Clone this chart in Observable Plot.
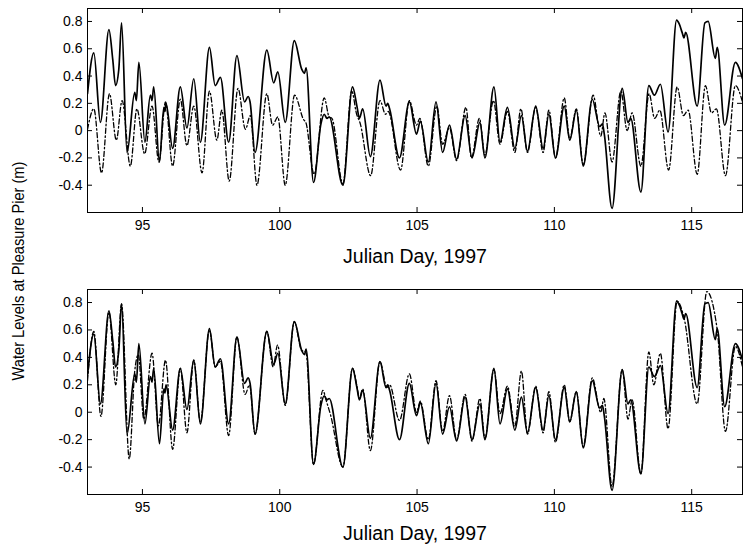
<!DOCTYPE html>
<html>
<head>
<meta charset="utf-8">
<script src="https://cdn.jsdelivr.net/npm/d3@7"></script>
<script src="https://cdn.jsdelivr.net/npm/@observablehq/plot@0.6"></script>
<style>
  html, body { margin: 0; padding: 0; background: #fff; }
  #wrap { position: relative; width: 743px; height: 544px; overflow: hidden; font-family: "Liberation Sans", Arial, sans-serif; }
  #wrap > div.panel { position: absolute; left: 0; z-index: 1; }
  #ylab { position: absolute; left: 18px; top: 271px; z-index: 5; transform: translate(-50%, -50%) rotate(-90deg) scaleX(0.86); white-space: nowrap; font-size: 17px; line-height: 1; color: #000; }
</style>
</head>
<body>
<div id="wrap"></div>
<script>
// Observed water level (solid, both panels)
const obsDay = [93.0,93.23,93.47,93.78,93.92,94.02,94.14,94.24,94.44,94.72,94.78,94.87,95.09,95.29,95.35,95.41,95.62,95.78,95.82,95.86,96.1,96.38,96.62,96.87,97.11,97.44,97.65,97.84,98.14,98.44,98.72,98.85,98.92,99.1,99.53,99.78,99.93,100.2,100.53,100.8,100.9,100.96,101.23,101.5,101.62,101.72,101.8,102.3,102.65,102.81,102.9,103.02,103.3,103.65,103.87,103.93,104.0,104.36,104.72,104.98,105.12,105.41,105.69,105.93,106.18,106.44,106.75,107.0,107.29,107.47,107.8,108.02,108.29,108.56,108.8,109.02,109.32,109.59,109.8,110.04,110.36,110.56,110.8,111.05,111.38,111.65,111.75,111.82,112.1,112.47,112.68,112.78,113.15,113.44,113.64,113.86,114.14,114.45,114.55,114.65,114.72,114.78,115.2,115.48,115.6,115.86,115.93,116.2,116.59,116.85];
const obsLevel = [0.27,0.57,0.06,0.74,0.52,0.33,0.45,0.79,-0.16,0.28,0.22,0.50,-0.085,0.26,0.22,0.32,-0.23,0.17,0.14,0.20,-0.13,0.32,0.02,0.38,-0.085,0.61,0.33,0.39,-0.085,0.55,0.21,0.25,0.21,-0.16,0.59,0.35,0.43,0.06,0.66,0.45,0.42,0.46,-0.38,0.05,0.12,0.09,0.10,-0.40,0.32,0.18,0.09,0.16,-0.19,0.37,0.18,0.20,0.16,-0.20,0.21,-0.025,0.07,-0.23,0.21,-0.16,0.04,-0.21,0.11,-0.20,0.06,-0.20,0.32,-0.085,0.17,-0.13,0.11,-0.15,0.18,-0.13,0.12,-0.20,0.18,-0.07,0.15,-0.26,0.23,0.03,0.05,-0.03,-0.57,0.31,0.06,0.09,-0.45,0.33,0.26,0.34,-0.01,0.81,0.78,0.72,0.68,0.72,0.18,0.79,0.80,0.53,0.61,0.04,0.50,0.38];

// Predicted tide (dash-dot, top panel)
const tideDay = [93.0,93.23,93.51,93.8,94.05,94.26,94.56,94.8,95.08,95.35,95.6,95.84,96.1,96.38,96.62,96.87,97.17,97.44,97.71,97.89,98.16,98.48,98.75,98.93,99.17,99.53,99.74,99.93,100.2,100.54,100.87,100.95,101.25,101.62,101.8,101.9,102.3,102.62,102.8,102.92,103.31,103.65,103.85,103.95,104.4,104.72,104.98,105.1,105.41,105.72,105.93,106.18,106.44,106.78,106.98,107.27,107.47,107.78,108.02,108.29,108.56,108.78,109.02,109.32,109.59,109.8,110.04,110.36,110.56,110.8,111.05,111.41,111.69,111.84,112.1,112.42,112.65,112.83,113.15,113.45,113.65,113.84,114.16,114.47,114.7,114.87,115.2,115.5,115.72,115.9,116.23,116.59,116.85];
const tideLevel = [0.01,0.16,-0.31,0.27,-0.07,0.22,-0.26,0.16,-0.17,0.18,-0.23,0.21,-0.26,0.23,-0.11,0.18,-0.31,0.29,-0.07,0.15,-0.37,0.31,0.01,0.11,-0.40,0.27,0.04,0.10,-0.40,0.26,0.08,0.06,-0.32,0.24,0.10,0.09,-0.39,0.29,0.12,0.06,-0.33,0.22,0.12,0.14,-0.29,0.22,0.04,0.09,-0.26,0.18,-0.10,0.02,-0.22,0.17,-0.20,0.09,-0.18,0.22,-0.10,0.14,-0.16,0.16,-0.16,0.17,-0.16,0.15,-0.20,0.24,-0.06,0.16,-0.25,0.26,-0.04,0.13,-0.23,0.29,0.00,0.13,-0.26,0.27,0.09,0.15,-0.29,0.32,0.11,0.15,-0.32,0.33,0.13,0.16,-0.33,0.33,0.21];

// Modelled water level (dash-dot, bottom panel)
const modelDay = [93.0,93.23,93.49,93.78,94.03,94.24,94.52,94.72,94.85,95.05,95.35,95.58,95.84,96.1,96.38,96.62,96.87,97.11,97.44,97.65,97.84,98.14,98.44,98.74,98.9,99.1,99.53,99.76,99.92,100.2,100.53,100.8,100.95,101.23,101.57,101.7,101.85,102.3,102.65,102.82,102.9,103.02,103.3,103.65,103.9,104.0,104.36,104.72,104.98,105.12,105.41,105.69,105.93,106.18,106.44,106.75,107.0,107.29,107.47,107.8,108.02,108.29,108.56,108.8,109.02,109.32,109.59,109.8,110.04,110.36,110.56,110.8,111.05,111.38,111.69,111.8,112.1,112.47,112.68,112.83,113.15,113.44,113.62,113.86,114.14,114.47,114.72,115.2,115.55,115.93,116.23,116.59,116.85];
const modelLevel = [0.23,0.59,-0.03,0.73,0.20,0.79,-0.34,0.30,0.42,-0.05,0.43,-0.10,0.38,-0.27,0.32,-0.15,0.38,-0.07,0.60,0.33,0.37,-0.17,0.55,0.13,0.20,-0.16,0.59,0.33,0.49,0.05,0.66,0.45,0.44,-0.38,0.16,0.08,-0.02,-0.40,0.32,0.18,0.10,0.17,-0.28,0.37,0.18,0.20,-0.06,0.28,0.00,0.08,-0.20,0.23,-0.14,0.12,-0.20,0.13,-0.21,0.10,-0.19,0.31,-0.01,0.19,-0.10,0.30,-0.16,0.19,-0.15,0.15,-0.22,0.20,-0.07,0.15,-0.25,0.25,0.00,0.10,-0.54,0.31,-0.05,0.09,-0.45,0.44,0.20,0.43,-0.12,0.81,0.69,0.06,0.88,0.60,-0.14,0.48,0.33];

const xTicks = [95, 100, 105, 110, 115];
const yTicks = [-0.4, -0.2, 0, 0.2, 0.4, 0.6, 0.8];
const xLabel = "Julian Day, 1997";
const yLabel = "Water Levels at Pleasure Pier (m)";

const toRows = (days, levels) => days.map((d, i) => ({day: d, level: levels[i]}));
const obs = toRows(obsDay, obsLevel);
const tide = toRows(tideDay, tideLevel);
const model = toRows(modelDay, modelLevel);

function panel(dashed, marginBottom, height, labelDy) {
  const frameH = height - 8 - marginBottom;
  const frameW = 743 - 87 - 1;
  return Plot.plot({
    width: 743,
    height,
    marginLeft: 87,
    marginRight: 1,
    marginTop: 8,
    marginBottom,
    style: {fontFamily: "'Liberation Sans', Arial, sans-serif", fontSize: "14px", color: "#000", background: "transparent", overflow: "visible"},
    x: {domain: [93, 116.85]},
    y: {domain: [-0.6, 0.895]},
    marks: [
      Plot.frame({stroke: "#000", strokeWidth: 1}),
      Plot.tickX(xTicks, {x: d => d, insetTop: frameH - 5, stroke: "#000"}),
      Plot.tickX(xTicks, {x: d => d, insetBottom: frameH - 5, stroke: "#000"}),
      Plot.tickY(yTicks, {y: d => d, insetRight: frameW - 5, stroke: "#000"}),
      Plot.tickY(yTicks, {y: d => d, insetLeft: frameW - 5, stroke: "#000"}),
      Plot.axisX({ticks: xTicks, tickSize: 0, tickPadding: 8, label: null, fontSize: 14}),
      Plot.axisY({ticks: yTicks, tickSize: 0, tickPadding: 5, label: null, fontSize: 14,
                  tickFormat: d => d === 0 ? "0" : d.toFixed(1)}),
      Plot.line(dashed, {x: "day", y: "level", curve: "monotone-x", stroke: "#000",
                         strokeWidth: 1.3, strokeDasharray: "5,2.5,1.5,2.5", clip: true}),
      Plot.line(obs, {x: "day", y: "level", curve: "monotone-x", stroke: "#000",
                      strokeWidth: 1.7, clip: true}),
      Plot.text([xLabel], {frameAnchor: "bottom", dy: labelDy, lineAnchor: "middle",
                           fontSize: 19.5, fill: "#000"})
    ]
  });
}

const wrap = document.getElementById("wrap");
const p1 = document.createElement("div");
p1.className = "panel"; p1.style.top = "0px";
p1.appendChild(panel(tide, 58, 270, 44));
const p2 = document.createElement("div");
p2.className = "panel"; p2.style.top = "281px";
p2.appendChild(panel(model, 50, 263, 39));
wrap.appendChild(p1);
wrap.appendChild(p2);
const yl = document.createElement("div");
yl.id = "ylab";
yl.textContent = yLabel;
wrap.appendChild(yl);
</script>
</body>
</html>
